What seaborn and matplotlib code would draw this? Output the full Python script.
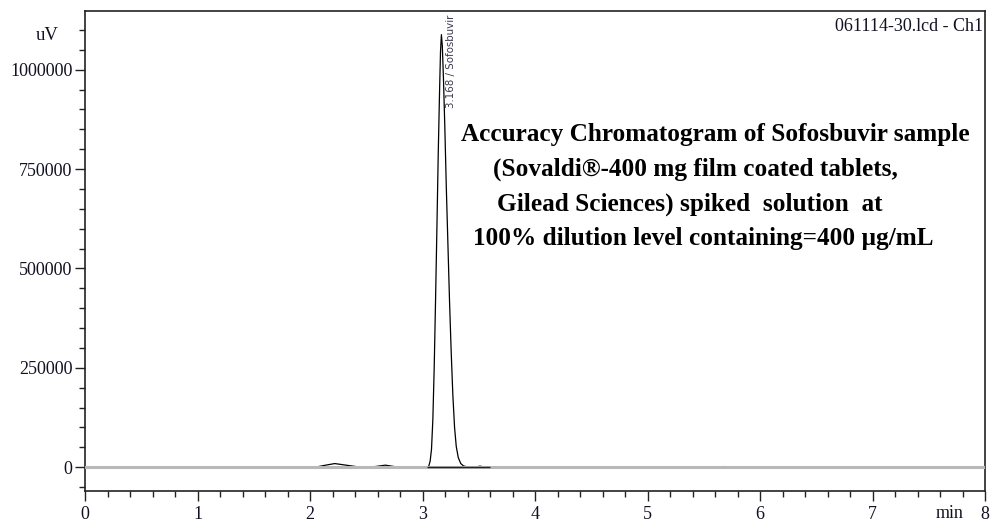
import numpy as np
import pandas as pd
import matplotlib
matplotlib.use('Agg')
import matplotlib.pyplot as plt
from matplotlib.ticker import MultipleLocator, FuncFormatter
import seaborn as sns

# ── Data (time in min, signal in uV) ─────────────────────────────────────────
time_min = [0.00, 2.00, 2.05, 2.12, 2.22, 2.32, 2.42, 2.50, 2.58, 2.67, 2.76,
            2.85, 3.03,
            3.040, 3.055, 3.068, 3.080, 3.092, 3.104, 3.116, 3.128, 3.140,
            3.152, 3.160, 3.168,
            3.176, 3.186, 3.198, 3.212, 3.226, 3.240, 3.255, 3.270, 3.285,
            3.300, 3.318, 3.340, 3.365, 3.400, 3.440,
            3.470, 3.510, 3.560, 5.64, 5.68, 5.72, 8.00]
signal_uv = [0, 0, 0, 4000, 9000, 5000, 1000, 0, 1500, 5000, 1000,
             0, 0,
             0, 2000, 15000, 45000, 120000, 250000, 420000, 600000, 790000,
             950000, 1045000, 1088000,
             1060000, 980000, 860000, 700000, 560000, 420000, 290000, 180000,
             100000, 52000, 24000, 9000, 3000, 500, 0,
             0, 2500, 0, 0, 1500, 0, 0]

peak_rt = 3.168
peak_name = 'Sofosbuvir'
peak_start, peak_end = 3.04, 3.60

x_ticks = [0, 1, 2, 3, 4, 5, 6, 7, 8]
y_ticks = [0, 250000, 500000, 750000, 1000000]

note_lines = ['Accuracy Chromatogram of Sofosbuvir sample',
              '(Sovaldi®-400 mg film coated tablets,',
              'Gilead Sciences) spiked  solution  at',
              '100% dilution level containing=400 µg/mL']
note_left_px = [461, 493, 497, 473]
note_mid_px = [134, 169, 204, 239]

df = pd.DataFrame({'Time': time_min, 'Signal': signal_uv})

# ── Style ────────────────────────────────────────────────────────────────────
sns.set_style('ticks')
plt.rcParams['font.family'] = ['Liberation Serif', 'DejaVu Serif']

W, H = 990, 525
fig = plt.figure(figsize=(W / 100, H / 100), dpi=100)
ax = fig.add_axes([85 / W, 1 - 491 / H, 900 / W, 480 / H])

sns.lineplot(data=df, x='Time', y='Signal', ax=ax, color='black',
             linewidth=0.9, zorder=2, sort=False)
ax.axhline(0, color='#b8b8b8', linewidth=2.2, zorder=3)
ax.hlines(0, peak_start, peak_end, color='#222222', linewidth=1.0, zorder=4)

ax.set_xlim(0, 8)
ax.set_ylim(-60000, 1147500)
ax.set_xticks(x_ticks)
ax.set_yticks(y_ticks)
ax.yaxis.set_major_formatter(FuncFormatter(lambda v, p: f'{int(v)}'))
ax.xaxis.set_minor_locator(MultipleLocator(0.2))
ax.yaxis.set_minor_locator(MultipleLocator(50000))
ax.tick_params(which='major', length=7.5, width=1.0, color='#222222',
               labelsize=13, labelcolor='#111122', pad=1.5)
ax.tick_params(axis='x', which='major', pad=3.5)
ax.tick_params(which='minor', length=4.5, width=1.0, color='#222222')
ax.set_xlabel('')
ax.set_ylabel('')
for s in ax.spines.values():
    s.set_visible(True)
    s.set_linewidth(1.2)
    s.set_color('#222222')

# axis unit labels
ax.annotate('uV', xy=(0, 1085000), xycoords=('axes fraction', 'data'),
            xytext=(-38, 0), textcoords='offset pixels',
            ha='center', va='center', fontsize=13.5, color='#111122')
ax.annotate('min', xy=(1, 0), xycoords='axes fraction',
            xytext=(-35, -22), textcoords='offset pixels',
            ha='center', va='center', fontsize=13, color='#111122')

# file label
ax.text(0.998, 0.985, '061114-30.lcd - Ch1', transform=ax.transAxes,
        ha='right', va='top', fontsize=13, color='#111122')

# peak label
ax.text(peak_rt + 0.085, 0.993, f'{peak_rt:.3f} / {peak_name}',
        transform=ax.get_xaxis_transform(), rotation=90,
        ha='center', va='top', fontsize=7.4, color='#3a3a50',
        family=['DejaVu Sans'])

# annotation block
for line, lx, my in zip(note_lines, note_left_px, note_mid_px):
    fig.text(lx / W, 1 - my / H, line, ha='left', va='center',
             fontsize=18.2, fontweight='bold', color='black')

fig.savefig('out.png', dpi=100)
